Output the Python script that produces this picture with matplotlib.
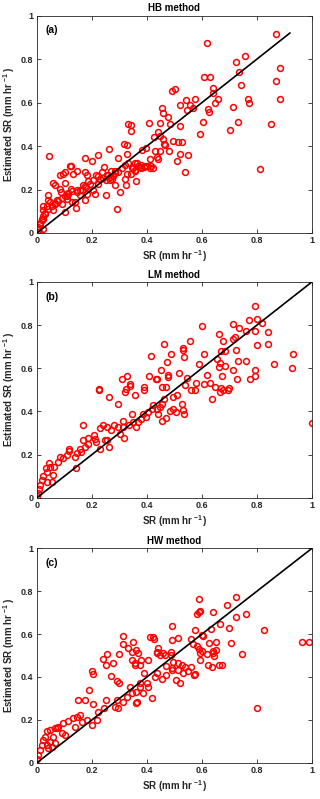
import numpy as np
import matplotlib
matplotlib.use('Agg')
import matplotlib.pyplot as plt

# Figure look (MATLAB-like)
plt.rcParams['font.family'] = ['Liberation Sans', 'DejaVu Sans']
plt.rcParams['font.weight'] = 'bold'
plt.rcParams['mathtext.fontset'] = 'custom'
plt.rcParams['mathtext.rm'] = 'Liberation Sans'
plt.rcParams['mathtext.bf'] = 'Liberation Sans:bold'

hb_points = [
    (0.870, 0.917), (0.617, 0.873), (0.755, 0.813), (0.725, 0.787), (0.884, 0.760),
    (0.735, 0.743), (0.607, 0.716), (0.628, 0.716), (0.870, 0.699), (0.741, 0.679),
    (0.639, 0.668), (0.492, 0.654), (0.502, 0.662), (0.641, 0.644), (0.884, 0.616),
    (0.659, 0.618), (0.767, 0.615), (0.772, 0.599), (0.648, 0.598), (0.541, 0.612),
    (0.576, 0.618), (0.520, 0.589), (0.556, 0.589), (0.544, 0.567), (0.568, 0.575),
    (0.455, 0.575), (0.622, 0.572), (0.712, 0.578), (0.627, 0.558), (0.460, 0.552),
    (0.476, 0.532), (0.331, 0.503), (0.343, 0.497), (0.408, 0.508), (0.448, 0.508),
    (0.605, 0.509), (0.731, 0.512), (0.852, 0.500), (0.520, 0.494), (0.702, 0.476),
    (0.342, 0.471), (0.484, 0.501), (0.594, 0.456), (0.811, 0.295), (0.538, 0.281),
    (0.550, 0.358), (0.508, 0.333), (0.496, 0.425), (0.514, 0.420), (0.526, 0.420),
    (0.520, 0.364), (0.441, 0.463), (0.447, 0.448), (0.427, 0.442), (0.459, 0.433),
    (0.462, 0.410), (0.467, 0.407), (0.479, 0.379), (0.430, 0.379), (0.447, 0.379),
    (0.436, 0.349), (0.442, 0.341), (0.411, 0.341), (0.395, 0.390), (0.383, 0.384),
    (0.318, 0.408), (0.329, 0.407), (0.326, 0.364), (0.293, 0.347), (0.263, 0.388),
    (0.221, 0.361), (0.175, 0.344), (0.199, 0.330), (0.045, 0.353), (0.120, 0.307),
    (0.124, 0.310), (0.415, 0.306), (0.389, 0.303), (0.375, 0.303), (0.350, 0.298),
    (0.365, 0.321), (0.356, 0.287), (0.341, 0.272), (0.362, 0.239), (0.296, 0.280),
    (0.282, 0.287), (0.326, 0.272), (0.320, 0.249), (0.324, 0.219), (0.302, 0.188),
    (0.284, 0.219), (0.251, 0.242), (0.259, 0.265), (0.274, 0.249), (0.265, 0.257),
    (0.244, 0.303), (0.236, 0.280), (0.229, 0.249), (0.215, 0.265), (0.223, 0.226),
    (0.211, 0.180), (0.251, 0.177), (0.193, 0.226), (0.178, 0.211), (0.183, 0.265),
    (0.175, 0.280), (0.132, 0.272), (0.144, 0.287), (0.183, 0.180), (0.175, 0.153),
    (0.156, 0.196), (0.144, 0.188), (0.142, 0.116), (0.290, 0.112), (0.205, 0.196),
    (0.124, 0.203), (0.108, 0.157), (0.102, 0.280), (0.096, 0.272), (0.084, 0.265),
    (0.059, 0.229), (0.102, 0.231), (0.084, 0.203), (0.086, 0.188), (0.065, 0.219),
    (0.039, 0.173), (0.047, 0.142), (0.041, 0.150), (0.065, 0.135), (0.074, 0.150),
    (0.090, 0.135), (0.102, 0.096), (0.059, 0.104), (0.035, 0.122), (0.023, 0.122),
    (0.021, 0.107), (0.029, 0.089), (0.023, 0.066), (0.017, 0.058), (0.011, 0.043),
    (0.005, 0.028), (0.002, 0.012), (0.008, 0.005), (0.021, 0.020), (0.126, 0.142),
    (0.114, 0.183), (0.168, 0.219), (0.156, 0.173), (0.108, 0.170), (0.138, 0.142),
    (0.187, 0.239), (0.205, 0.246), (0.223, 0.261), (0.241, 0.254), (0.253, 0.269),
    (0.265, 0.246), (0.278, 0.261), (0.271, 0.284), (0.283, 0.277), (0.175, 0.216),
    (0.162, 0.200), (0.144, 0.200), (0.126, 0.193), (0.114, 0.178), (0.102, 0.170),
    (0.090, 0.163), (0.078, 0.147), (0.065, 0.139), (0.053, 0.124), (0.041, 0.109),
    (0.029, 0.094), (0.023, 0.078), (0.017, 0.063), (0.011, 0.048), (0.344, 0.300),
    (0.356, 0.292), (0.368, 0.307), (0.380, 0.300), (0.393, 0.307), (0.411, 0.300),
    (0.308, 0.300), (0.320, 0.315), (0.332, 0.323), (0.356, 0.323), (0.380, 0.315),
    (0.399, 0.307), (0.423, 0.300),
]

lm_points = [
    (0.794, 0.889), (0.772, 0.826), (0.799, 0.828), (0.712, 0.806), (0.818, 0.808),
    (0.736, 0.786), (0.599, 0.798), (0.762, 0.772), (0.792, 0.774), (0.840, 0.769),
    (0.662, 0.760), (0.722, 0.746), (0.714, 0.735), (0.557, 0.728), (0.676, 0.728),
    (0.462, 0.714), (0.841, 0.712), (0.801, 0.706), (0.530, 0.692), (0.530, 0.686),
    (0.670, 0.682), (0.724, 0.686), (0.607, 0.666), (0.685, 0.682), (0.486, 0.666),
    (0.930, 0.666), (0.413, 0.657), (0.535, 0.651), (0.731, 0.632), (0.760, 0.634),
    (0.655, 0.645), (0.664, 0.625), (0.661, 0.606), (0.684, 0.609), (0.474, 0.628),
    (0.590, 0.618), (0.862, 0.622), (0.928, 0.602), (0.794, 0.591), (0.712, 0.594),
    (0.450, 0.591), (0.515, 0.578), (0.617, 0.571), (0.475, 0.571), (0.409, 0.566),
    (0.673, 0.565), (0.475, 0.559), (0.328, 0.563), (0.309, 0.549), (0.338, 0.526),
    (0.774, 0.551), (0.792, 0.566), (0.729, 0.548), (0.435, 0.548), (0.433, 0.551),
    (0.544, 0.555), (0.579, 0.532), (0.630, 0.532), (0.607, 0.529), (0.539, 0.523),
    (0.225, 0.505), (0.324, 0.505), (0.389, 0.511), (0.456, 0.511), (0.470, 0.514),
    (0.697, 0.509), (0.648, 0.512), (0.668, 0.508), (0.227, 0.498), (0.261, 0.469),
    (0.293, 0.434), (0.321, 0.491), (0.389, 0.500), (0.356, 0.474), (0.636, 0.457),
    (0.338, 0.517), (0.562, 0.497), (0.575, 0.497), (0.678, 0.500), (0.696, 0.500),
    (0.665, 0.489), (0.999, 0.346), (0.508, 0.474), (0.496, 0.466), (0.526, 0.435),
    (0.530, 0.408), (0.533, 0.389), (0.504, 0.397), (0.496, 0.409), (0.484, 0.400),
    (0.468, 0.369), (0.455, 0.355), (0.441, 0.389), (0.435, 0.412), (0.447, 0.420),
    (0.462, 0.458), (0.453, 0.435), (0.423, 0.431), (0.417, 0.412), (0.405, 0.397),
    (0.386, 0.389), (0.398, 0.374), (0.380, 0.366), (0.368, 0.351), (0.362, 0.328),
    (0.350, 0.351), (0.335, 0.335), (0.344, 0.389), (0.314, 0.354), (0.314, 0.328),
    (0.316, 0.278), (0.302, 0.297), (0.296, 0.328), (0.280, 0.335), (0.271, 0.312),
    (0.256, 0.326), (0.256, 0.266), (0.261, 0.235), (0.247, 0.266), (0.229, 0.325),
    (0.241, 0.335), (0.229, 0.228), (0.208, 0.292), (0.214, 0.258), (0.211, 0.274),
    (0.187, 0.278), (0.185, 0.251), (0.168, 0.338), (0.168, 0.266), (0.175, 0.235),
    (0.156, 0.228), (0.160, 0.212), (0.144, 0.205), (0.140, 0.189), (0.142, 0.138),
    (0.115, 0.228), (0.115, 0.215), (0.108, 0.197), (0.096, 0.182), (0.084, 0.189),
    (0.076, 0.166), (0.063, 0.143), (0.045, 0.163), (0.047, 0.143), (0.033, 0.138),
    (0.035, 0.120), (0.059, 0.105), (0.023, 0.102), (0.017, 0.082), (0.038, 0.074),
    (0.053, 0.074), (0.011, 0.058), (0.006, 0.040), (0.002, 0.020), (0.001, 0.009),
]

hw_points = [
    (0.725, 0.771), (0.590, 0.762), (0.690, 0.736), (0.588, 0.705), (0.593, 0.708),
    (0.639, 0.705), (0.582, 0.695), (0.762, 0.692), (0.725, 0.680), (0.665, 0.645),
    (0.697, 0.630), (0.492, 0.638), (0.825, 0.621), (0.632, 0.622), (0.575, 0.617),
    (0.600, 0.596), (0.604, 0.591), (0.411, 0.588), (0.422, 0.588), (0.425, 0.579),
    (0.314, 0.591), (0.512, 0.580), (0.492, 0.571), (0.562, 0.575), (0.350, 0.561),
    (0.651, 0.565), (0.627, 0.557), (0.705, 0.557), (0.964, 0.561), (0.990, 0.561),
    (0.314, 0.552), (0.568, 0.552), (0.331, 0.533), (0.362, 0.527), (0.442, 0.533),
    (0.582, 0.543), (0.590, 0.530), (0.642, 0.523), (0.651, 0.524), (0.599, 0.521),
    (0.347, 0.518), (0.368, 0.513), (0.256, 0.505), (0.299, 0.505), (0.435, 0.515),
    (0.459, 0.510), (0.486, 0.518), (0.744, 0.505), (0.802, 0.255), (0.239, 0.482),
    (0.251, 0.456), (0.275, 0.463), (0.199, 0.429), (0.202, 0.414), (0.268, 0.406),
    (0.299, 0.370), (0.292, 0.383), (0.190, 0.339), (0.148, 0.292), (0.175, 0.292),
    (0.205, 0.274), (0.345, 0.479), (0.356, 0.463), (0.356, 0.456), (0.377, 0.479),
    (0.374, 0.456), (0.389, 0.417), (0.436, 0.510), (0.447, 0.502), (0.405, 0.479),
    (0.465, 0.502), (0.486, 0.502), (0.436, 0.417), (0.430, 0.401), (0.453, 0.390),
    (0.468, 0.409), (0.471, 0.451), (0.494, 0.471), (0.490, 0.440), (0.514, 0.463),
    (0.506, 0.386), (0.520, 0.370), (0.490, 0.432), (0.514, 0.432), (0.527, 0.456),
    (0.538, 0.448), (0.548, 0.429), (0.562, 0.448), (0.575, 0.414), (0.572, 0.409),
    (0.532, 0.417), (0.593, 0.479), (0.621, 0.456), (0.638, 0.448), (0.645, 0.498),
    (0.661, 0.454), (0.672, 0.456), (0.593, 0.510), (0.617, 0.507), (0.641, 0.510),
    (0.374, 0.370), (0.400, 0.370), (0.405, 0.355), (0.418, 0.300), (0.374, 0.355),
    (0.362, 0.331), (0.345, 0.323), (0.338, 0.355), (0.326, 0.308), (0.314, 0.285),
    (0.290, 0.292), (0.284, 0.261), (0.296, 0.253), (0.360, 0.277), (0.365, 0.285),
    (0.387, 0.323), (0.251, 0.292), (0.242, 0.253), (0.223, 0.238), (0.217, 0.199),
    (0.199, 0.176), (0.181, 0.199), (0.162, 0.191), (0.156, 0.222), (0.144, 0.215),
    (0.132, 0.207), (0.138, 0.165), (0.114, 0.196), (0.096, 0.184), (0.078, 0.168),
    (0.102, 0.129), (0.090, 0.137), (0.072, 0.160), (0.065, 0.160), (0.047, 0.152),
    (0.035, 0.149), (0.059, 0.121), (0.065, 0.090), (0.047, 0.098), (0.035, 0.082),
    (0.023, 0.106), (0.017, 0.082), (0.011, 0.059), (0.005, 0.036), (0.001, 0.016),
    (0.029, 0.118), (0.041, 0.067), (0.053, 0.072),
]

titles = ['HB method', 'LM method', 'HW method']
panel_tags = ['(a)', '(b)', '(c)']
line_end = [0.92, 1.0, 1.0]
ticks = [0, 0.2, 0.4, 0.6, 0.8, 1]
tick_labels = ['0', '0.2', '0.4', '0.6', '0.8', '1']

fig = plt.figure(figsize=(3.2, 7.99), dpi=100)

# axes rectangles [left, bottom, width, height] in figure fraction
axes_pos = [
    [0.1156, 0.7084, 0.859, 0.2720],
    [0.1156, 0.3771, 0.859, 0.2700],
    [0.1156, 0.0454, 0.859, 0.2683],
]

grey = '#262626'
unit = r'(mm hr$\,^{\mathbf{-1}}\,$)'
for pts, title, tag, end, pos in zip([hb_points, lm_points, hw_points],
                                     titles, panel_tags, line_end, axes_pos):
    ax = fig.add_axes(pos)
    pts = np.array(pts)
    ax.plot(pts[:, 0], pts[:, 1], 'o', mfc='none', mec='red', ms=4.2, mew=1.1,
            zorder=2)
    ax.plot([0, end], [0, end], '-', color='black', lw=1.2, zorder=3)

    ax.set_xlim(0, 1)
    ax.set_ylim(0, 1)
    ax.set_xticks(ticks)
    ax.set_yticks(ticks)
    ax.set_xticklabels(tick_labels)
    ax.set_yticklabels(tick_labels)
    ax.tick_params(direction='in', top=True, right=True, length=3, width=0.6,
                   labelsize=6.5, colors=grey, pad=2.5)
    for lbl in ax.get_xticklabels() + ax.get_yticklabels():
        lbl.set_fontweight('bold')
    for sp in ax.spines.values():
        sp.set_color(grey)
        sp.set_linewidth(0.6)

    ax.set_title(title, fontsize=7, fontweight='bold', pad=3)
    ax.set_xlabel('SR ' + unit, fontsize=7, fontweight='bold',
                  color=grey, labelpad=2)
    ax.set_ylabel('Estimated SR ' + unit, fontsize=7,
                  fontweight='bold', color=grey, labelpad=3)
    ax.text(0.03, 0.955, tag, transform=ax.transAxes, fontsize=7.5,
            fontweight='bold', va='top', ha='left')

fig.savefig('out.png', dpi=100)
